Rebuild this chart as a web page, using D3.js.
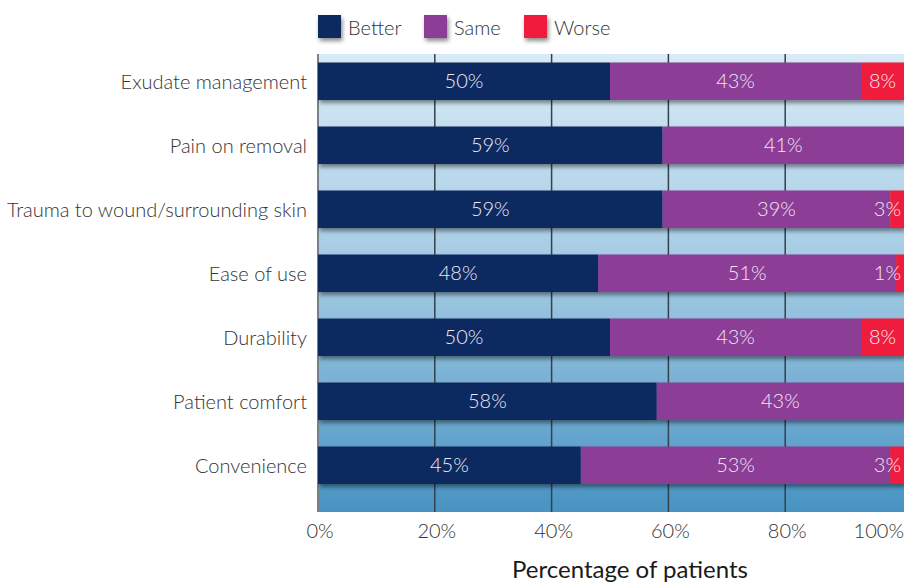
<!DOCTYPE html>
<html><head><meta charset="utf-8">
<script src="https://cdn.jsdelivr.net/npm/d3@7"></script>
<style>
html,body{margin:0;padding:0;background:#fff;}
svg{display:block;}
text{font-family:"Lato","Open Sans",sans-serif;}
</style></head>
<body>
<svg id="c" width="904" height="584"></svg>
<script>
const categories = ["Exudate management","Pain on removal","Trauma to wound/surrounding skin","Ease of use","Durability","Patient comfort","Convenience"];
const better = [50,59,59,48,50,58,45];
const same   = [43,41,39,51,43,43,53];
const worse  = [8,0,3,1,8,0,3];
const seriesNames = ["Better","Same","Worse"];
const tickValues = [0,20,40,60,80,100];
const colors = ["#0f2b61","#8c3d96","#f01b3c"];

const svg = d3.select("#c");
const plotL = 318, plotR = 904, plotT = 54, plotB = 512;

const x = d3.scaleLinear().domain([0,100]).range([318, 902]);
const y = d3.scaleBand().domain(categories).range([49.25, 497.25]).paddingInner(0.414).paddingOuter(0.207);

const defs = svg.append("defs");
const grad = defs.append("linearGradient").attr("id","bg").attr("x1",0).attr("y1",0).attr("x2",0).attr("y2",1);
grad.append("stop").attr("offset","0%").attr("stop-color","#d8ebf6");
grad.append("stop").attr("offset","50%").attr("stop-color","#9fc8e2");
grad.append("stop").attr("offset","100%").attr("stop-color","#4893c2");
const f = defs.append("filter").attr("id","sh").attr("x","-10%").attr("y","-20%").attr("width","130%").attr("height","160%");
f.append("feDropShadow").attr("dx",1.5).attr("dy",3).attr("stdDeviation",2.2).attr("flood-color","#000").attr("flood-opacity",0.45);
defs.append("clipPath").attr("id","clip").append("rect").attr("x",plotL).attr("y",plotT).attr("width",plotR-plotL).attr("height",plotB-plotT);

svg.append("rect").attr("x",plotL).attr("y",plotT).attr("width",plotR-plotL).attr("height",plotB-plotT).attr("fill","url(#bg)");

svg.append("g").selectAll("line").data(tickValues.filter(d=>d>0 && d<100)).join("line")
  .attr("x1",d=>x(d)).attr("x2",d=>x(d)).attr("y1",plotT).attr("y2",plotB)
  .attr("stroke","#34414c").attr("stroke-width",1.5);
svg.append("line").attr("x1",plotL).attr("x2",plotL).attr("y1",plotT).attr("y2",plotB)
  .attr("stroke","#7a8088").attr("stroke-width",2);

const rows = categories.map((c,i)=>({cat:c, vals:[better[i],same[i],worse[i]]}));
const segs = [];
rows.forEach(r=>{
  let acc=0;
  r.vals.forEach((v,k)=>{ if(v>0) segs.push({cat:r.cat,k,v,x0:acc,x1:acc+v}); acc+=v; });
});
const segEnd = d => d.x1 >= 100 ? plotR : Math.min(x(d.x1), plotR);

const barG = svg.append("g").attr("clip-path","url(#clip)");
rows.forEach(r=>{
  const g = barG.append("g").attr("filter","url(#sh)");
  g.selectAll("rect").data(segs.filter(s=>s.cat===r.cat)).join("rect")
    .attr("x",d=>x(d.x0)).attr("y",y(r.cat))
    .attr("width",d=>Math.max(0,segEnd(d)-x(d.x0)))
    .attr("height",y.bandwidth())
    .attr("fill",d=>colors[d.k]);
});

svg.append("g").selectAll("text").data(segs).join("text")
  .each(function(d){
    const a = x(d.x0), b = segEnd(d);
    let cx = (a+b)/2, anchor="middle";
    if (b-a < 30) { cx = plotR-3; anchor="end"; }
    d3.select(this).attr("x",cx).attr("text-anchor",anchor);
  })
  .attr("y",d=>y(d.cat)+y.bandwidth()/2)
  .attr("dy","0.36em")
  .attr("fill","#f0e8f4")
  .attr("font-size",20).attr("font-weight",300)
  .text(d=>d.v+"%");

svg.append("g").selectAll("text").data(categories).join("text")
  .attr("x",307).attr("y",d=>y(d)+y.bandwidth()/2).attr("dy","0.38em")
  .attr("text-anchor","end").attr("fill","#333").attr("font-size",20).attr("font-weight",300)
  .text(d=>d);

svg.append("g").selectAll("text").data(tickValues).join("text")
  .attr("x",d=> d===100 ? 904 : x(d)+2).attr("y",531).attr("dy","0.36em")
  .attr("text-anchor",d=> d===100 ? "end" : "middle")
  .attr("fill","#333").attr("font-size",20).attr("font-weight",300)
  .text(d=>d+"%");

svg.append("text").attr("x",630).attr("y",569).attr("dy","0.36em").attr("text-anchor","middle")
  .attr("fill","#1a1a1a").attr("font-size",24).attr("font-weight",400)
  .text("Percentage of patients");

const legX = [318,424,524];
const lg = svg.append("g");
seriesNames.forEach((n,i)=>{
  lg.append("rect").attr("x",legX[i]).attr("y",15).attr("width",23).attr("height",23)
    .attr("fill",colors[i]).attr("filter","url(#sh)");
  lg.append("text").attr("x",legX[i]+30).attr("y",28).attr("dy","0.36em")
    .attr("fill","#333").attr("font-size",20).attr("font-weight",300).text(n);
});
</script>
</body></html>
